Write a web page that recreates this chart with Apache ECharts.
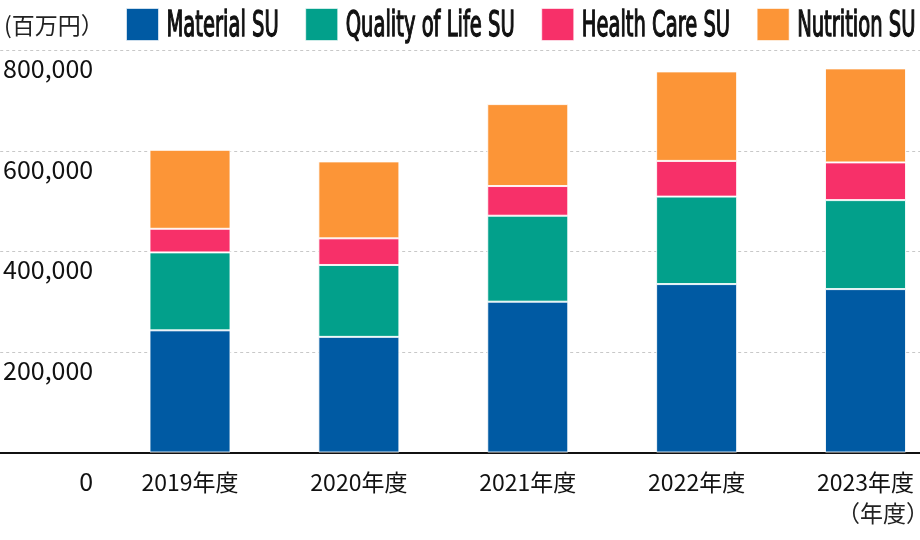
<!DOCTYPE html>
<html>
<head>
<meta charset="utf-8">
<script src="https://cdn.jsdelivr.net/npm/echarts@6/dist/echarts.min.js"></script>
<style>html,body{margin:0;padding:0;background:#fff}#c{width:920px;height:540px}</style>
</head>
<body>
<div id="c"></div>
<script>
const categories = ['2019年度', '2020年度', '2021年度', '2022年度', '2023年度'];
const seriesNames = ['Material SU', 'Quality of Life SU', 'Health Care SU', 'Nutrition SU'];
const material = [243000, 230000, 300000, 335000, 325000];
const qualityOfLife = [155000, 143000, 171000, 174000, 177000];
const healthCare = [47000, 53000, 59000, 71000, 75000];
const nutrition = [157000, 153000, 163000, 178000, 187000];
const yTicks = [0, 200000, 400000, 600000, 800000];
const unitLabel = '(百万円）';
const xUnitLabel = '（年度）';

const colors = ['#005aa3', '#02a08b', '#f73069', '#fc9537'];
const values = [material, qualityOfLife, healthCare, nutrition];
const cjk = '"Noto Sans CJK JP", "Noto Sans", sans-serif';
const narrow = '"DejaVu Sans Condensed", "Liberation Sans Narrow", sans-serif';

// Legend drawn as condensed real text (horizontally scaled to emulate the condensed face)
const legendFontSize = 35;
const legendFont = legendFontSize + 'px ' + narrow;
const ctx = document.createElement('canvas').getContext('2d');
ctx.font = legendFont;
const legendTextSpan = 548;
const rawTotal = seriesNames.reduce((s, n) => s + ctx.measureText(n).width, 0);
const scaleX = legendTextSpan / rawTotal;
const legendGraphics = [];
let lx = 126;
seriesNames.forEach((name, i) => {
  const w = ctx.measureText(name).width * scaleX;
  legendGraphics.push({
    type: 'group', left: lx, top: 8,
    children: [
      {type: 'rect', shape: {x: 0, y: 0, width: 32, height: 32},
       style: {fill: colors[i], stroke: 'rgba(255,255,255,0.6)', lineWidth: 1}},
      {type: 'text', x: 40, y: 18, scaleX: scaleX, scaleY: 1,
       style: {text: name, font: legendFont, fill: '#111', stroke: '#111', lineWidth: 1.3,
               verticalAlign: 'middle', align: 'left'}}
    ]
  });
  lx += 40 + w + 27;
});

const chart = echarts.init(document.getElementById('c'), null, {renderer: 'canvas'});
const yMin = yTicks[0], yMax = yTicks[yTicks.length - 1], yStep = yTicks[1] - yTicks[0];

chart.setOption({
  animation: false,
  backgroundColor: '#fff',
  title: [
    {text: unitLabel, left: -1, top: 9, textStyle: {fontFamily: cjk, fontSize: 23, fontWeight: 'normal', color: '#222'}},
    {text: xUnitLabel, left: 832, top: 497, textStyle: {fontFamily: cjk, fontSize: 23, fontWeight: 'normal', color: '#222'}}
  ],
  legend: {show: false, data: seriesNames},
  graphic: legendGraphics,
  grid: [
    {left: 190, right: 54.5, top: 50.3, bottom: 87.5},
    {left: 0, right: 0, top: 50.3, bottom: 87.5}
  ],
  xAxis: [
    {type: 'category', gridIndex: 0, data: categories, boundaryGap: false,
     axisLine: {show: false}, axisTick: {show: false},
     axisLabel: {margin: 18, fontFamily: cjk, fontSize: 23, color: '#111'}},
    {type: 'value', gridIndex: 1, min: 0, max: 1, show: true,
     axisLine: {show: true, onZero: false, lineStyle: {color: '#111', width: 2}},
     axisTick: {show: false}, axisLabel: {show: false}, splitLine: {show: false}}
  ],
  yAxis: [
    {type: 'value', gridIndex: 0, min: yMin, max: yMax, interval: yStep, show: false},
    {type: 'value', gridIndex: 1, min: yMin, max: yMax, interval: yStep,
     axisLine: {show: false}, axisTick: {show: false},
     splitLine: {show: true, lineStyle: {color: '#c8c8c8', type: [3, 3], width: 1}},
     axisLabel: {
       inside: true, margin: 93, align: 'right', verticalAlign: 'top',
       fontFamily: cjk, fontSize: 25, color: '#111',
       formatter: v => v === 0 ? '{z|0}' : '{a|' + v.toLocaleString('en-US') + '}',
       rich: {
         a: {fontFamily: cjk, fontSize: 25, color: '#111', padding: [6, 0, 0, 0]},
         z: {fontFamily: cjk, fontSize: 25, color: '#111', padding: [16, 0, 0, 0]}
       }
     }}
  ],
  series: seriesNames.map((name, i) => ({
    name, type: 'bar', stack: 'total', xAxisIndex: 0, yAxisIndex: 0,
    barWidth: 81, data: values[i],
    itemStyle: {color: colors[i], borderColor: 'rgba(255,255,255,0.85)', borderWidth: 1}
  }))
});
</script>
</body>
</html>
